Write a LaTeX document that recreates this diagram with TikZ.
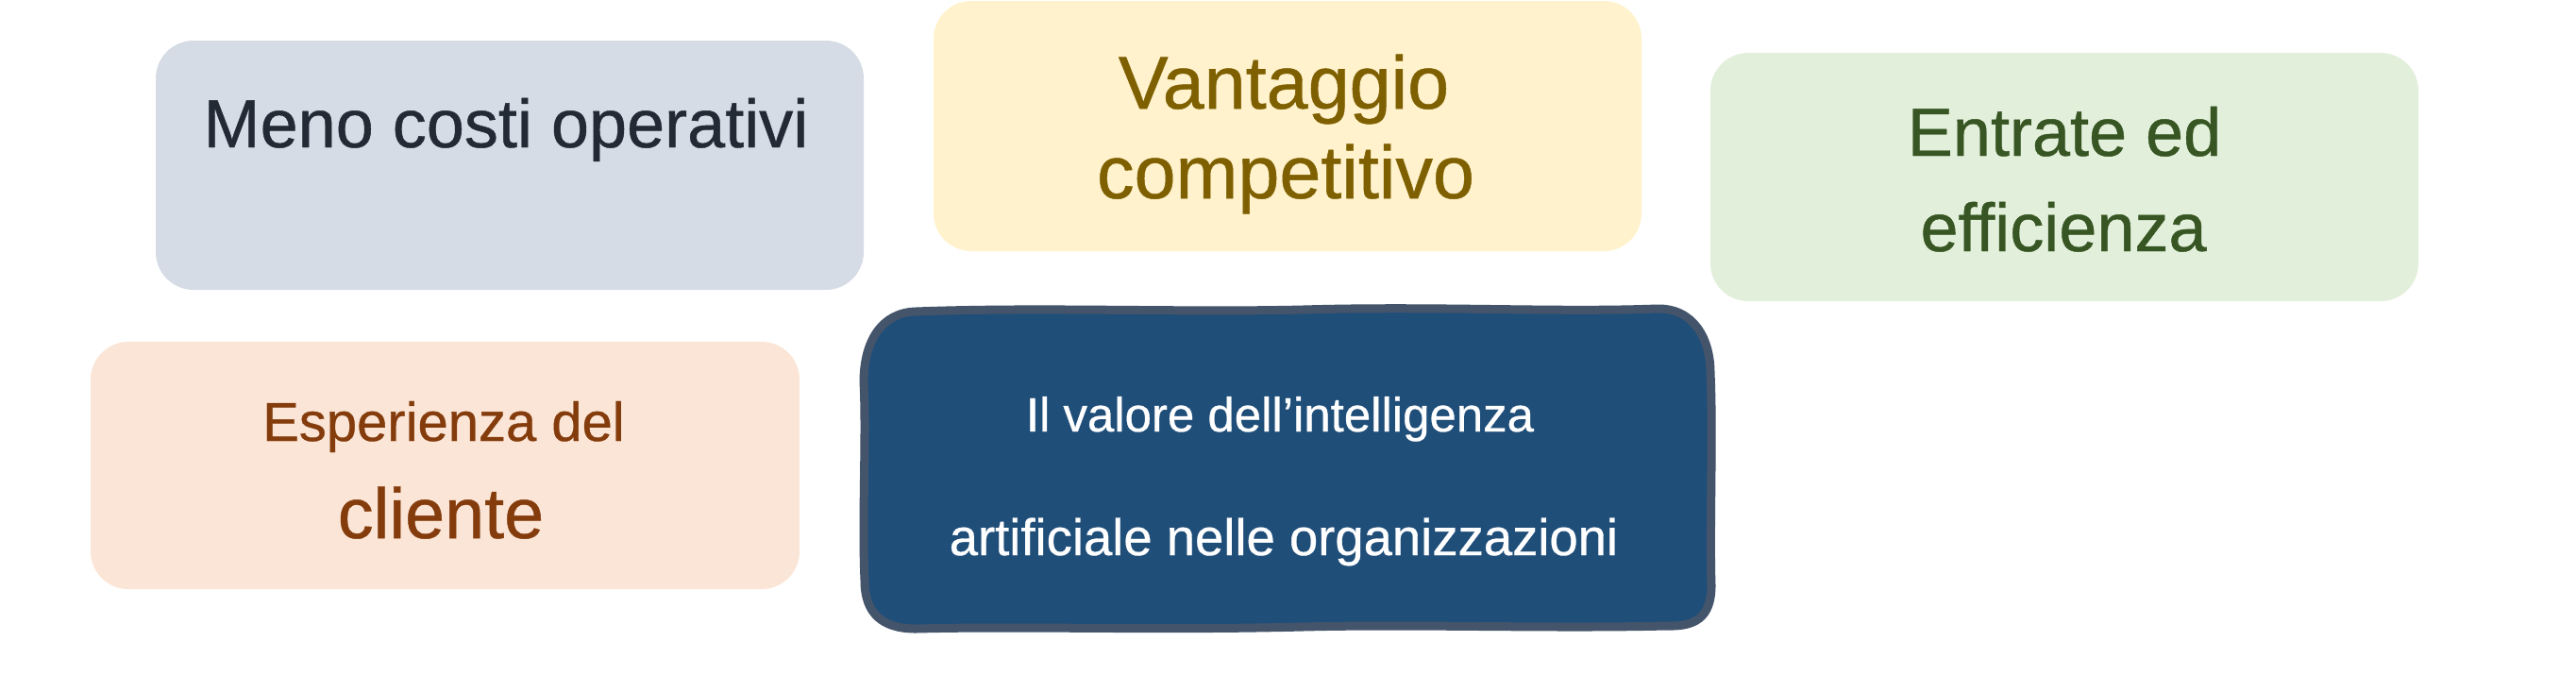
\documentclass[tikz,border=0pt]{standalone}
\usepackage{fontspec}
\setmainfont[FakeBold=0.6]{Liberation Sans}
\usepackage{tikz}
\usetikzlibrary{positioning,calc}
\definecolor{costfill}{HTML}{D6DCE5}
\definecolor{costtext}{HTML}{222A35}
\definecolor{edgefill}{HTML}{FFF2CC}
\definecolor{edgetext}{HTML}{7F6000}
\definecolor{revfill}{HTML}{E2EFDA}
\definecolor{revtext}{HTML}{375623}
\definecolor{custfill}{HTML}{FBE5D6}
\definecolor{custtext}{HTML}{843C0C}
\definecolor{corefill}{HTML}{1F4E79}
\definecolor{coreline}{HTML}{44546A}
\tikzstyle{benefit} = [rectangle, rounded corners=0.4cm, inner sep=0pt,
minimum width=7.5cm, minimum height=2.64cm]
\tikzstyle{core} = [rectangle, minimum width=8.99cm, minimum height=3.39cm, inner sep=0pt]
\tikzstyle{coreborder} = [draw=coreline, fill=corefill, line width=0.09cm, line join=round]
\tikzstyle{boxtext} = [anchor=base, inner sep=0pt]

\begin{document}
\begin{tikzpicture}
	\useasboundingbox (0,0) rectangle (27.29,-7.32);
	\node[benefit, fill=costfill] (meno) at (5.40,-1.75) {};
	\node[boxtext, text=costtext, font=\fontsize{20.5}{24}\selectfont] (menotext) at ($(meno)+(-0.04,0.19)$) {Meno costi operativi};

	\node[benefit, fill=edgefill, minimum height=2.65cm] (vantaggio) at (13.64,-1.335) {};
	\node[boxtext, text=edgetext, font=\fontsize{22.5}{26}\selectfont] (vantaggiotop) at ($(vantaggio)+(-0.04,0.185)$) {Vantaggio};
	\node[boxtext, text=edgetext, font=\fontsize{22.5}{26}\selectfont] (vantaggiobot) at ($(vantaggio)+(-0.02,-0.765)$) {competitivo};

	\node[benefit, fill=revfill, minimum height=2.63cm] (entrate) at (21.87,-1.875) {};
	\node[boxtext, text=revtext, font=\fontsize{20.5}{24}\selectfont] (entratetop) at ($(entrate)+(0,0.225)$) {Entrate ed};
	\node[boxtext, text=revtext, font=\fontsize{20.5}{24}\selectfont] (entratebot) at ($(entrate)+(-0.01,-0.785)$) {efficienza};

	\node[benefit, fill=custfill, minimum width=7.51cm, minimum height=2.62cm] (cliente) at (4.715,-4.93) {};
	\node[boxtext, text=custtext, font=\fontsize{16.5}{20}\selectfont] (clientetop) at ($(cliente)+(-0.015,0.26)$) {Esperienza del};
	\node[boxtext, text=custtext, font=\fontsize{21.5}{25}\selectfont] (clientebot) at ($(cliente)+(-0.045,-0.77)$) {cliente};

	% central box, hand drawn border
	\draw[coreborder] (9.70,-3.30)
		.. controls (11.0,-3.25) and (12.5,-3.31) .. (13.8,-3.28)
		.. controls (15.2,-3.24) and (16.5,-3.31) .. (17.55,-3.27)
		.. controls (17.95,-3.26) and (18.12,-3.60) .. (18.12,-3.95)
		.. controls (18.15,-4.6) and (18.11,-5.6) .. (18.13,-6.2)
		.. controls (18.13,-6.55) and (17.95,-6.64) .. (17.65,-6.63)
		.. controls (16.4,-6.66) and (15.0,-6.61) .. (13.8,-6.64)
		.. controls (12.2,-6.68) and (10.9,-6.63) .. (9.70,-6.66)
		.. controls (9.35,-6.66) and (9.16,-6.50) .. (9.16,-6.15)
		.. controls (9.13,-5.5) and (9.18,-4.6) .. (9.15,-4.05)
		.. controls (9.15,-3.60) and (9.35,-3.31) .. (9.70,-3.30) -- cycle;
	\node[core] (valore) at (13.64,-4.96) {};
	\node[boxtext, text=white, font=\fontsize{14.5}{18}\selectfont] (valoretop) at ($(valore)+(-0.08,0.39)$) {Il valore dell’intelligenza};
	\node[boxtext, text=white, font=\fontsize{15.5}{19}\selectfont] (valorebot) at ($(valore)+(-0.04,-0.92)$) {artificiale nelle organizzazioni};
\end{tikzpicture}
\end{document}
